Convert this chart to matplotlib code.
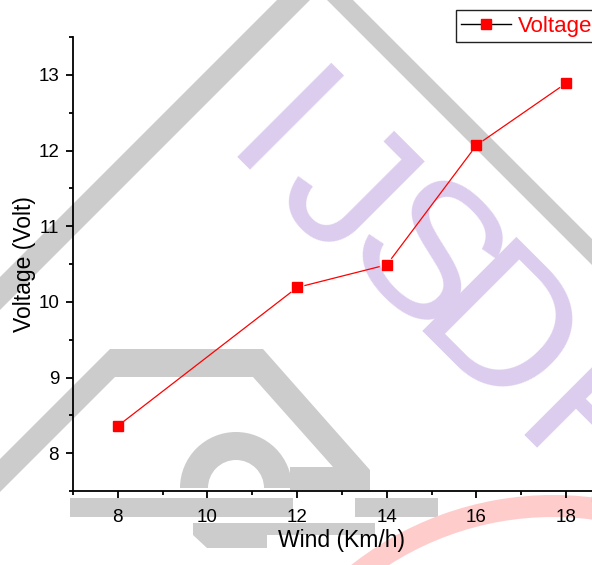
import numpy as np
import matplotlib
matplotlib.use('Agg')
import matplotlib.pyplot as plt
from matplotlib.lines import Line2D
from matplotlib.patches import Polygon, Wedge, Rectangle

plt.rcParams['font.family'] = ['Liberation Sans', 'DejaVu Sans']

# data
wind = [8, 12, 14, 16, 18]
voltage = [8.36, 10.19, 10.49, 12.07, 12.89]
xticks = [8, 10, 12, 14, 16, 18]
yticks = [8, 9, 10, 11, 12, 13]

W, H = 592, 565
fig = plt.figure(figsize=(W/100, H/100), dpi=100)

# watermark layer, in pixel units (y down)
bg = fig.add_axes([0, 0, 1, 1], zorder=0)
bg.set_xlim(0, W)
bg.set_ylim(H, 0)
bg.axis('off')
gray = '#cccccc'
purple = '#dccdee'
bg.add_patch(Polygon([(277, 0), (310, 0), (0, 310), (0, 277)], color=gray, lw=0))
bg.add_patch(Polygon([(327, 0), (353, 0), (592, 239), (592, 265)], color=gray, lw=0))
bg.add_patch(Polygon([(0, 459), (110, 349), (263, 349), (370, 470), (370, 490),
                      (290, 490), (290, 467), (333, 467), (253, 377), (115, 377),
                      (0, 492)], color=gray, lw=0))
bg.add_patch(Wedge((236, 488), 56, 180, 360, width=28, color=gray, lw=0))
bg.add_patch(Rectangle((70, 498), 223, 19, color=gray, lw=0))
bg.add_patch(Rectangle((355, 498), 83, 19, color=gray, lw=0))
bg.add_patch(Polygon([(193, 523), (375, 523), (375, 535), (267, 535), (267, 548),
                      (207, 548), (193, 535)], color=gray, lw=0))
bg.add_patch(Wedge((553, 821), 326, 220, 300, width=22, color='#ffcccc', lw=0))
for ch, (cx, cy) in zip('IJSDR', [(273, 140), (340, 197), (418, 266), (490, 344), (592, 448)]):
    bg.text(cx, cy, ch, rotation=-45, ha='center', va='center', fontsize=139,
            color=purple, rotation_mode='anchor')

# main chart
ax = fig.add_axes([73/W, 74/H, 538/W, 454/H], zorder=1)
ax.patch.set_alpha(0)
ax.set_xlim(7, 19)
ax.set_ylim(7.5, 13.5)

# line segments stop a few pixels short of the markers
pts = ax.transData.transform(np.column_stack([wind, voltage]))
gap = 8
for p0, p1 in zip(pts[:-1], pts[1:]):
    d = (p1 - p0) / np.hypot(*(p1 - p0))
    seg = ax.transData.inverted().transform([p0 + d*gap, p1 - d*gap])
    ax.plot(seg[:, 0], seg[:, 1], color='red', lw=0.9)
ax.plot(wind, voltage, ls='none', marker='s', ms=7.2, mfc='red', mec='red')

ax.set_xticks(xticks)
ax.set_yticks(yticks)
ax.set_xticks(np.arange(7, 20, 2), minor=True)
ax.set_yticks(np.arange(7.5, 13.6, 1), minor=True)
for s in ['top', 'right']:
    ax.spines[s].set_visible(False)
for s in ['left', 'bottom']:
    ax.spines[s].set_linewidth(1.3)
ax.tick_params(which='major', length=5, width=1.3, labelsize=13.5, pad=5)
ax.tick_params(which='minor', length=3, width=1.3)
ax.tick_params(axis='x', which='major', pad=8)
ax.set_xlabel('Wind (Km/h)', fontsize=16.5, labelpad=2)
ax.set_ylabel('Voltage (Volt)', fontsize=16.5, labelpad=1.5)

h = Line2D([0], [0], color='black', lw=1, marker='s', ms=7.2, mfc='red', mec='red')
leg = ax.legend([h], ['Voltage'], loc='upper left', bbox_to_anchor=(455.7/W, 1 - 10/H),
                bbox_transform=fig.transFigure, fontsize=16, labelcolor='red',
                fancybox=False, edgecolor='#222222', framealpha=1, borderpad=0.25,
                handlelength=2.25, handletextpad=0.3, borderaxespad=0)
leg.get_frame().set_linewidth(1)

fig.savefig('out.png', dpi=100)
